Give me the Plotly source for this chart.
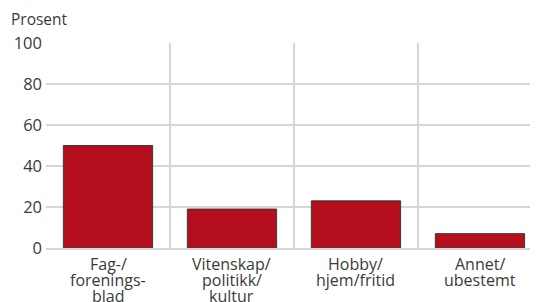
import plotly.graph_objects as go

categories = ["Fag-/<br>forenings-<br>blad", "Vitenskap/<br>politikk/<br>kultur", "Hobby/<br>hjem/fritid", "Annet/<br>ubestemt"]
values = [50, 19, 23, 7]
y_ticks = [0, 20, 40, 60, 80, 100]
y_title = "Prosent"

FONT = "Open Sans"
TXT = "#3a3a3a"
GRID = "#d6d6d6"
BAR = "#b30f1d"

fig = go.Figure()
fig.add_trace(go.Bar(
    x=categories, y=values, width=0.72,
    marker=dict(color=BAR, line=dict(color="#3a3a3a", width=1)),
    hoverinfo="skip",
))

annotations = []
for cat in categories:
    for k, line in enumerate(cat.split("<br>")):
        annotations.append(dict(
            x=cat, y=0, xref="x", yref="y", text=line, showarrow=False,
            yanchor="middle", xanchor="center", yshift=-(15.5 + 16 * k),
            font=dict(family=FONT, size=16, color=TXT),
        ))
annotations.append(dict(
    x=0, y=1, xref="paper", yref="paper", xanchor="left", yanchor="bottom",
    xshift=-37, yshift=11, text=y_title, showarrow=False,
    font=dict(family=FONT, size=15.5, color=TXT),
))

fig.update_layout(
    width=530, height=294,
    margin=dict(l=38, r=0, t=35, b=54),
    paper_bgcolor="white", plot_bgcolor="white",
    showlegend=False,
    annotations=annotations,
    xaxis=dict(
        type="category", tickson="boundaries", range=[-0.5, 3.468],
        showgrid=True, gridcolor=GRID, gridwidth=2,
        showticklabels=False, ticks="",
        showline=True, linecolor=GRID, linewidth=2,
        zeroline=False, fixedrange=True,
    ),
    yaxis=dict(
        range=[0, 100], tickvals=y_ticks, ticks="",
        showgrid=True, gridcolor=GRID, gridwidth=2,
        zeroline=False, showline=False,
        tickfont=dict(family=FONT, size=16.5, color=TXT),
        ticklabelstandoff=3, fixedrange=True,
    ),
)

fig.write_html("out.html", config={"displayModeBar": False})
